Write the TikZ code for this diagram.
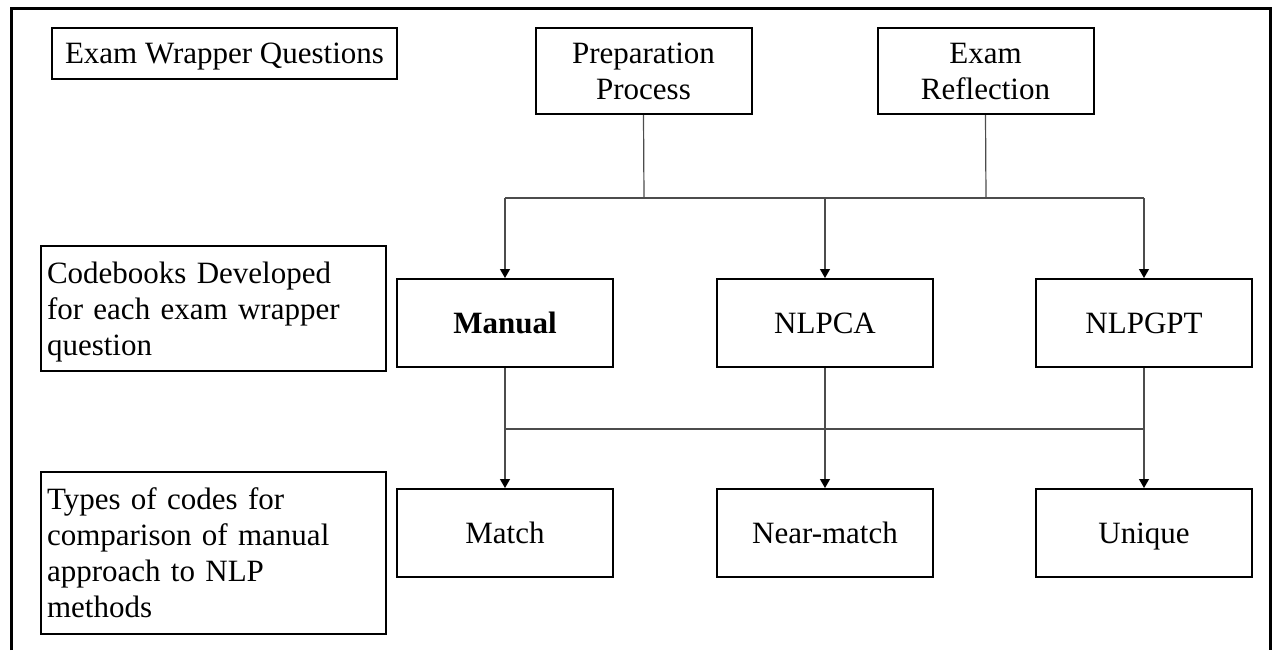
\documentclass[tikz,border=0pt]{standalone}
\usepackage{fontspec}
\setmainfont{Liberation Serif}
\usetikzlibrary{arrows.meta}
\begin{document}
\begin{tikzpicture}[x=0.5pt,y=-0.5pt,
  txt/.style={font=\fontsize{15.5}{18}\selectfont},
  box/.style={txt,draw=black,line width=1pt,rectangle,inner sep=0pt,align=center,
    minimum width=108pt,minimum height=44pt},
  sbox/.style={box,text height=10.2pt,text depth=0pt},
  lbox/.style={txt,draw=black,line width=1pt,rectangle,inner sep=3pt,align=left,
    minimum width=172.5pt,text width=166.5pt},
  conn/.style={draw=black!70,line width=0.6pt},
  arr/.style={conn,-{Triangle[length=4.5pt,width=5pt,fill=black,color=black]}}]
\useasboundingbox (0,0) rectangle (1275,650);
% outer frame
\draw[line width=1.5pt] (11,650) -- (11,8) -- (1270,8) -- (1270,650);
% nodes
\node[sbox,minimum width=172.5pt,minimum height=25.5pt] (ewq) at (224.5,53.5) {Exam Wrapper Questions};
\node[box,minimum height=43pt] (prep) at (643.5,71) {Preparation\\Process};
\node[box,minimum height=43pt] (refl) at (985.5,71) {Exam\\Reflection};
\node[lbox,minimum height=62.5pt] (cb) at (213.5,308.5) {Codebooks Developed\\for each exam wrapper\\\smash{question}};
\node[sbox] (manual) at (505,323) {\textbf{Manual}};
\node[sbox] (nlpca) at (825,323) {NLPCA};
\node[sbox] (nlpgpt) at (1144,323) {NLPGPT};
\node[lbox,minimum height=81pt] (types) at (213.5,553) {Types of codes for\\comparison of manual\\approach to NLP\\methods};
\node[sbox] (match) at (505,533) {Match};
\node[sbox] (near) at (825,533) {Near-match};
\node[sbox] (unique) at (1144,533) {Unique};
% junction coordinates
\coordinate (ja) at (644,198);
\coordinate (jb) at (986,198);
\coordinate (jl) at (505,198);
\coordinate (jr) at (1144,198);
\coordinate (ka) at (505,429);
\coordinate (kb) at (1144,429);
% connectors
\draw[conn] (prep.south) -- (ja);
\draw[conn] (refl.south) -- (jb);
\draw[conn] (jl) -- (jr);
\draw[arr] (jl) -- (manual.north);
\draw[arr] (nlpca.north |- jl) -- (nlpca.north);
\draw[arr] (jr) -- (nlpgpt.north);
\draw[conn] (ka) -- (kb);
\draw[arr] (manual.south) -- (match.north);
\draw[arr] (nlpca.south) -- (near.north);
\draw[arr] (nlpgpt.south) -- (unique.north);
\end{tikzpicture}
\end{document}
